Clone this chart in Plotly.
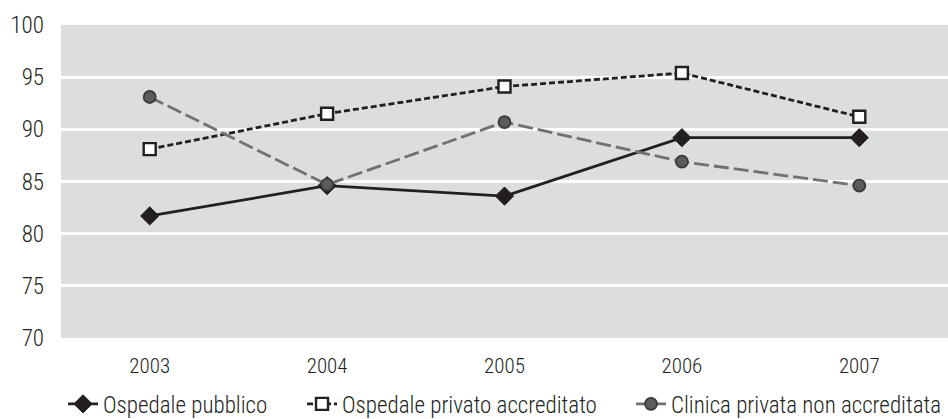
import plotly.graph_objects as go

# Anni e valori percentuali per tipologia di struttura
anni = ["2003", "2004", "2005", "2006", "2007"]
ospedale_pubblico = [81.7, 84.6, 83.6, 89.2, 89.2]
ospedale_privato_accreditato = [88.1, 91.5, 94.1, 95.4, 91.2]
clinica_privata_non_accreditata = [93.1, 84.7, 90.7, 86.9, 84.6]

FONT = "Roboto Condensed, DejaVu Sans Condensed, sans-serif"
INK = "#231f20"

fig = go.Figure()

fig.add_trace(go.Scatter(
    x=anni, y=ospedale_pubblico, name="Ospedale pubblico",
    mode="lines+markers", legend="legend",
    line=dict(color=INK, width=2.8),
    marker=dict(symbol="diamond", size=14, color=INK,
                line=dict(color=INK, width=1)),
))

fig.add_trace(go.Scatter(
    x=anni, y=ospedale_privato_accreditato, name="Ospedale privato accreditato",
    mode="lines+markers", legend="legend2",
    line=dict(color=INK, width=2.8, dash="6px,3px"),
    marker=dict(symbol="square", size=12, color="#ffffff",
                line=dict(color=INK, width=2.4)),
))

fig.add_trace(go.Scatter(
    x=anni, y=clinica_privata_non_accreditata, name="Clinica privata non accreditata",
    mode="lines+markers", legend="legend3",
    line=dict(color="#707173", width=2.8, dash="15px,5px"),
    marker=dict(symbol="circle", size=12, color="#5a5b5d",
                line=dict(color="#3a3a3c", width=1.8)),
))

# one legend box per series, laid out along the bottom edge
legend_style = dict(
    orientation="h", xref="container", yref="container",
    xanchor="left", y=0.036, yanchor="middle",
    font=dict(family=FONT, size=23, color=INK, weight=300),
    bgcolor="rgba(0,0,0,0)", itemwidth=30,
)

fig.update_layout(
    width=948, height=419,
    margin=dict(l=61, r=0, t=25, b=81),
    paper_bgcolor="#ffffff",
    plot_bgcolor="#dcdddf",
    font=dict(family=FONT, size=21, color=INK, weight=300),
    showlegend=True,
    legend=dict(legend_style, x=63 / 948),
    legend2=dict(legend_style, x=302 / 948),
    legend3=dict(legend_style, x=631 / 948),
    xaxis=dict(
        type="category", range=[-0.5, 4.5],
        showgrid=False, zeroline=False, showline=False, ticks="",
        ticklabelstandoff=13,
        tickfont=dict(family=FONT, size=21, weight=300),
    ),
    yaxis=dict(
        range=[70, 100], dtick=5, tick0=70,
        showgrid=True, gridcolor="#ffffff", gridwidth=3,
        zeroline=False, showline=False, ticks="",
        ticklabelstandoff=16,
        tickfont=dict(family=FONT, size=23, weight=300),
    ),
)

fig.write_html("out.html")
